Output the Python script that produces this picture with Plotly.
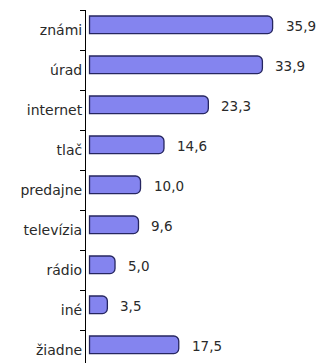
import plotly.graph_objects as go

categories = ["známi", "úrad", "internet", "tlač", "predajne", "televízia", "rádio", "iné", "žiadne"]
values = [35.9, 33.9, 23.3, 14.6, 10.0, 9.6, 5.0, 3.5, 17.5]
value_labels = [f"{v:.1f}".replace(".", ",") for v in values]

fig = go.Figure()
fig.add_trace(go.Bar(
    x=values,
    y=categories,
    orientation="h",
    width=0.44,
    offset=-0.35,
    marker=dict(color="#8484ef", line=dict(color="#262660", width=1.3)),
    textposition="none",
    hoverinfo="skip",
))

for cat, v, lab in zip(categories, values, value_labels):
    fig.add_annotation(x=v, y=cat, text=lab, showarrow=False, xanchor="left",
                       xshift=11, yshift=4,
                       font=dict(family="DejaVu Sans", size=13.5, color="#2a2a2a"))

fig.update_layout(
    width=316, height=363,
    margin=dict(l=86, r=0, t=10, b=0, pad=0, autoexpand=False),
    paper_bgcolor="white", plot_bgcolor="white",
    showlegend=False,
    barcornerradius=5,
    font=dict(family="DejaVu Sans", size=14, color="#2a2a2a"),
)
fig.update_xaxes(range=[-0.69, 44.41], visible=False, showgrid=False, zeroline=False,
                 automargin=False)
fig.update_yaxes(
    categoryorder="array", categoryarray=categories,
    range=[8.325, -0.5], automargin=False,
    showline=True, linecolor="black", linewidth=1,
    ticks="outside", ticklen=5, tickcolor="black", tickson="boundaries",
    showgrid=False, zeroline=False,
)

fig.write_html("out.html", config={"displayModeBar": False},
               post_script="document.body.style.margin='0';document.body.style.padding='0';")
